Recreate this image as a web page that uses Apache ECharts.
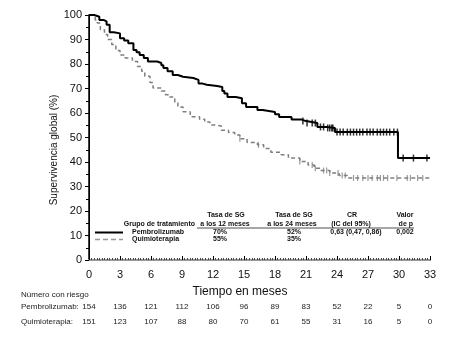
<!DOCTYPE html>
<html>
<head>
<meta charset="utf-8">
<script src="https://cdn.jsdelivr.net/npm/echarts@6/dist/echarts.min.js"></script>
<style>
html,body{margin:0;padding:0;background:#fff;}
#c{width:467px;height:350px;}
</style>
</head>
<body>
<div id="c"></div>
<script>
// ---- data ----
const xTicks = [0,3,6,9,12,15,18,21,24,27,30,33];
const riskPembro = [154,136,121,112,106,96,89,83,52,22,5,0];
const riskQuimio = [151,123,107,88,80,70,61,55,31,16,5,0];

const pembroKM = [[0,100],[0.5,99.3],[1.0,98],[1.4,97.4],[1.7,96],[2.0,93],[2.4,92.5],[3.0,90.5],[3.4,89.6],[3.8,88.5],[4.3,85.7],[4.6,84.8],[4.9,83.7],[5.3,82.5],[5.7,81],[6.6,80.4],[7.0,79.5],[7.2,78.4],[7.6,77],[8.1,75.5],[8.6,74.8],[9.1,74.3],[10.1,73.5],[10.6,72],[11.0,71.5],[11.4,71],[12.4,70.6],[12.9,69],[13.1,68],[13.4,66.5],[14.2,66],[14.8,64],[15.2,62.4],[16.3,61.2],[16.8,60.4],[18.0,59.5],[18.4,58.4],[19.6,57.3],[20.6,56.7],[21.0,55.9],[22.1,54.3],[23.0,53.9],[23.8,52.2],[29.9,41.6],[33,41.6]];

const quimioKM = [[0,100],[0.3,99.3],[0.6,98],[0.8,96.7],[1.1,94],[1.5,92],[1.8,90],[2.2,88],[2.6,85.5],[3.0,83.7],[3.5,82.5],[4.2,81],[4.7,79],[5.1,77],[5.4,75],[5.9,72.5],[6.2,70.2],[7.0,69],[7.4,67.5],[7.8,66.5],[8.3,64.5],[8.6,62.5],[9.1,60.5],[9.8,58.5],[10.7,57.5],[11.2,56.3],[11.7,55.1],[12.2,54.7],[12.8,53],[13.5,52],[14.1,51],[14.6,49.5],[15.3,48],[16.3,47],[16.9,45.5],[17.6,44],[18.6,43],[19.3,41.6],[20.4,40.2],[21.2,38.8],[21.8,37.5],[22.4,36.5],[23.3,35.5],[24.2,34.5],[25.0,33.5],[33,33.5]];

const pembroCensor = [20.7,21.1,21.6,21.9,22.4,22.7,23.1,23.3,23.5,23.6,24.0,24.3,24.6,25.0,25.3,25.6,25.9,26.2,26.5,26.9,27.2,27.5,27.9,28.2,28.5,28.8,29.1,29.5,29.85,30.4,31.4,32.7];
const quimioCensor = [14.6,16.4,20.4,21.6,21.9,22.7,23.0,23.3,24.1,24.5,24.8,25.6,26.0,26.5,27.0,27.4,27.9,28.2,28.5,28.9,29.8,30.8,31.1,31.8,32.3];

// ---- helpers ----
function kmAt(curve, t){
  let v = curve[0][1];
  for (const p of curve){ if (p[0] <= t) v = p[1]; else break; }
  return v;
}
const pembroCensorPts = pembroCensor.map(t => [t, kmAt(pembroKM, t)]);
const quimioCensorPts = quimioCensor.map(t => [t, kmAt(quimioKM, t)]);

const FONT = 'Liberation Sans, Arial, sans-serif';
const BLACK = '#000';
const GRAY = '#7f7f7f';

const chart = echarts.init(document.getElementById('c'), null, {renderer:'canvas'});

function riskAxis(arr, margin){
  return {
    type:'value', position:'bottom', min:0, max:33, interval:3,
    axisLine:{show:false}, axisTick:{show:false}, splitLine:{show:false},
    axisLabel:{margin:margin, fontSize:8, fontFamily:FONT, color:'#222',
      formatter: v => { const i = xTicks.indexOf(v); return i >= 0 ? String(arr[i]) : ''; }}
  };
}

const tStyle = {fontFamily:FONT, fontSize:7, fontWeight:'bold', fill:'#111'};
function txt(x, y, s, align){
  return {type:'text', x:x, y:y, style:Object.assign({text:s, textAlign:align||'center', textVerticalAlign:'middle'}, tStyle), z:10};
}

const option = {
  animation:false,
  backgroundColor:'#fff',
  grid:{left:89, right:37, top:15, bottom:90, containLabel:false},
  xAxis:[
    {
      type:'value', position:'bottom', min:0, max:33, interval:3,
      axisLine:{show:true, lineStyle:{color:'#000', width:1}},
      axisTick:{show:true, inside:true, length:4, lineStyle:{color:'#000'}},
      minorTick:{show:true, splitNumber:12, length:2, lineStyle:{color:'#444'}},
      splitLine:{show:false},
      axisLabel:{margin:9, fontSize:11, fontFamily:FONT, color:'#111'}
    },
    {
      type:'value', position:'top', min:0, max:33,
      axisLine:{show:true, lineStyle:{color:'#999', width:2}},
      axisTick:{show:false}, axisLabel:{show:false}, splitLine:{show:false}
    },
    riskAxis(riskPembro, 43),
    riskAxis(riskQuimio, 58)
  ],
  yAxis:[
    {
      type:'value', min:0, max:100, interval:10,
      axisLine:{show:true, lineStyle:{color:'#000', width:1}},
      axisTick:{show:true, length:4, lineStyle:{color:'#000'}},
      minorTick:{show:true, splitNumber:2, length:3, lineStyle:{color:'#000'}},
      splitLine:{show:false},
      axisLabel:{margin:7, fontSize:11, fontFamily:FONT, color:'#111'}
    },
    {
      type:'value', position:'right', min:0, max:100,
      axisLine:{show:true, lineStyle:{color:'#000', width:1.5}},
      axisTick:{show:false}, axisLabel:{show:false}, splitLine:{show:false}
    }
  ],
  series:[
    {type:'line', name:'Quimioterapia', data:quimioKM, step:'end', showSymbol:false, symbol:'none',
     lineStyle:{color:GRAY, width:1.5, type:[4,3]}, z:2},
    {type:'line', name:'Pembrolizumab', data:pembroKM, step:'end', showSymbol:false, symbol:'none',
     lineStyle:{color:BLACK, width:2}, z:3},
    {type:'scatter', data:quimioCensorPts, symbol:'rect', symbolSize:[1.2,6],
     itemStyle:{color:GRAY}, z:4},
    {type:'scatter', data:pembroCensorPts, symbol:'rect', symbolSize:[1.5,7],
     itemStyle:{color:BLACK}, z:5}
  ],
  graphic:[
    // y axis title
    {type:'text', x:54, y:150, rotation:Math.PI/2,
     style:{text:'Supervivencia global (%)', fontFamily:FONT, fontSize:10, fill:'#111', textAlign:'center', textVerticalAlign:'middle'}},
    // legend table
    txt(195, 224, 'Grupo de tratamiento', 'right'),
    txt(226, 215, 'Tasa de SG'),
    txt(225, 224, 'a los 12 meses'),
    txt(294, 215, 'Tasa de SG'),
    txt(292, 224, 'a los 24 meses'),
    txt(352, 215, 'CR'),
    txt(351, 224, '(IC del 95%)'),
    txt(405, 215, 'Valor'),
    txt(413, 224, 'de p', 'right'),
    {type:'line', shape:{x1:197, y1:228, x2:414, y2:228}, style:{stroke:'#222', lineWidth:0.8}, z:10},
    {type:'line', shape:{x1:95, y1:232.5, x2:123, y2:232.5}, style:{stroke:BLACK, lineWidth:2}, z:10},
    {type:'line', shape:{x1:95, y1:239.5, x2:123, y2:239.5}, style:{stroke:'#999', lineWidth:1.5, lineDash:[5,3]}, z:10},
    txt(132, 232.5, 'Pembrolizumab', 'left'),
    txt(132, 239.5, 'Quimioterapia', 'left'),
    txt(220, 232.5, '70%'),
    txt(220, 239.5, '55%'),
    txt(294, 232.5, '52%'),
    txt(294, 239.5, '35%'),
    txt(356, 232.5, '0,63 (0,47, 0,86)'),
    txt(405, 232.5, '0,002'),
    // x axis title
    {type:'text', x:240, y:292, style:{text:'Tiempo en meses', fontFamily:FONT, fontSize:12, fill:'#111', textAlign:'center', textVerticalAlign:'middle'}},
    // risk table labels
    {type:'text', x:21, y:295, style:{text:'Número con riesgo', fontFamily:FONT, fontSize:8, fill:'#222', textAlign:'left', textVerticalAlign:'middle'}},
    {type:'text', x:21, y:307, style:{text:'Pembrolizumab:', fontFamily:FONT, fontSize:8, fill:'#222', textAlign:'left', textVerticalAlign:'middle'}},
    {type:'text', x:21, y:322, style:{text:'Quimioterapia:', fontFamily:FONT, fontSize:8, fill:'#222', textAlign:'left', textVerticalAlign:'middle'}}
  ]
};
chart.setOption(option);
</script>
</body>
</html>
